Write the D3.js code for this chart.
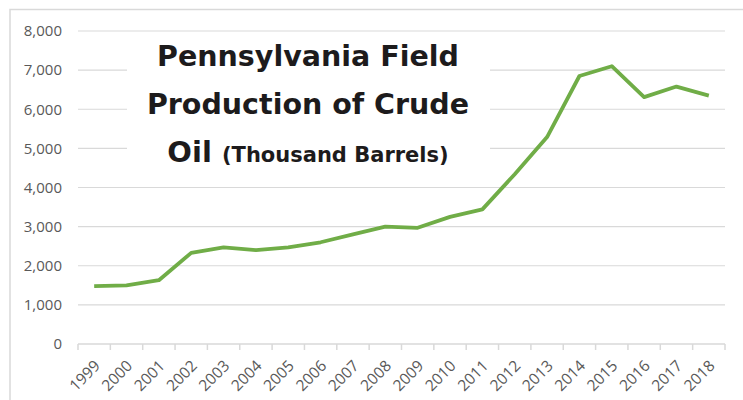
<!DOCTYPE html>
<html>
<head>
<meta charset="utf-8">
<script src="https://cdn.jsdelivr.net/npm/d3@7"></script>
<style>
  body { margin: 0; background: #fff; }
  svg { display: block; }
</style>
</head>
<body>
<svg id="chart" width="743" height="400"></svg>
<script>
// chart data (thousand barrels)
var years = ["1999","2000","2001","2002","2003","2004","2005","2006","2007","2008",
             "2009","2010","2011","2012","2013","2014","2015","2016","2017","2018"];
var production = [1480, 1500, 1630, 2330, 2470, 2400, 2470, 2600, 2800, 3000,
                  2970, 3250, 3440, 4340, 5290, 6850, 7100, 6310, 6580, 6350];
var yTicks = [0, 1000, 2000, 3000, 4000, 5000, 6000, 7000, 8000];
var titleLines = ["Pennsylvania Field", "Production of Crude", "Oil"];
var titleUnit = "(Thousand Barrels)";

var svg = d3.select("#chart");
var margin = {left: 78, right: 18, top: 31, bottom: 56};
var W = 743, H = 400;

var x = d3.scaleBand().domain(years).range([margin.left, W - margin.right]);
var y = d3.scaleLinear().domain([0, 8000]).range([H - margin.bottom, margin.top]);

// outer chart border
svg.append("rect")
  .attr("x", 10).attr("y", 9.5)
  .attr("width", 760).attr("height", 420)
  .attr("fill", "none").attr("stroke", "#d9d9d9").attr("stroke-width", 1.5);

// gridlines
svg.append("g").selectAll("line")
  .data(yTicks.filter(function(d){ return d > 0; }))
  .enter().append("line")
  .attr("x1", margin.left).attr("x2", W - margin.right)
  .attr("y1", function(d){ return y(d); }).attr("y2", function(d){ return y(d); })
  .attr("stroke", "#d9d9d9").attr("stroke-width", 1.2);

// y axis labels
var yAxis = d3.axisLeft(y).tickValues(yTicks).tickSize(0).tickPadding(16)
  .tickFormat(d3.format(","));
var gy = svg.append("g").attr("transform", "translate(" + margin.left + ",0)").call(yAxis);
gy.select(".domain").remove();
gy.selectAll("text")
  .attr("fill", "#595959")
  .style("font-family", "'Open Sans', sans-serif")
  .style("font-size", "15px");

// x axis with ticks at category boundaries
var gx = svg.append("g").attr("transform", "translate(0," + y(0) + ")");
gx.append("line")
  .attr("x1", margin.left).attr("x2", W - margin.right)
  .attr("stroke", "#d9d9d9").attr("stroke-width", 1.5);
var bounds = years.map(function(d){ return x(d); }).concat([W - margin.right]);
gx.selectAll(".tk").data(bounds).enter().append("line")
  .attr("class", "tk")
  .attr("x1", function(d){ return d; }).attr("x2", function(d){ return d; })
  .attr("y1", 0).attr("y2", 6)
  .attr("stroke", "#d9d9d9").attr("stroke-width", 1.5);
gx.selectAll(".lbl").data(years).enter().append("text")
  .attr("class", "lbl")
  .attr("transform", function(d){
    return "translate(" + (x(d) + x.bandwidth() / 2 + 3) + ",19) rotate(-45)";
  })
  .attr("text-anchor", "end")
  .attr("dy", "0.35em")
  .attr("fill", "#595959")
  .style("font-family", "'Open Sans', sans-serif")
  .style("font-size", "15.5px")
  .text(function(d){ return d; });

// title box (covers gridlines)
svg.append("rect")
  .attr("x", 127).attr("y", 32.5)
  .attr("width", 363).attr("height", 148)
  .attr("fill", "#fff");

// data line
var line = d3.line()
  .x(function(d, i){ return x(years[i]) + x.bandwidth() / 2; })
  .y(function(d){ return y(d); });
svg.append("path")
  .datum(production)
  .attr("d", line)
  .attr("fill", "none")
  .attr("stroke", "#70ad47")
  .attr("stroke-width", 3.8)
  .attr("stroke-linejoin", "round");

// title
var title = svg.append("g")
  .style("font-family", "'DejaVu Sans', sans-serif")
  .style("font-weight", "bold")
  .attr("fill", "#1d1b1c")
  .attr("text-anchor", "middle");
title.append("text").attr("x", 308).attr("y", 66)
  .style("font-size", "28.5px").text(titleLines[0]);
title.append("text").attr("x", 308).attr("y", 114)
  .style("font-size", "28.5px").text(titleLines[1]);
var t3 = title.append("text").attr("x", 308).attr("y", 162);
t3.append("tspan").style("font-size", "29px").text(titleLines[2] + " ");
t3.append("tspan").style("font-size", "21px").text(titleUnit);
</script>
</body>
</html>
